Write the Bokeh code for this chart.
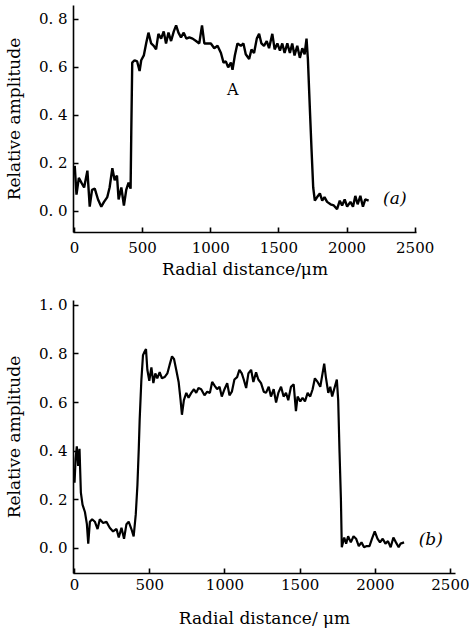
from bokeh.plotting import figure
from bokeh.models import Range1d, FixedTicker, CustomJSTickFormatter
from bokeh.core.properties import value
from bokeh.embed import file_html
from bokeh.resources import INLINE

# ---- data panel (a) ----
dist_a = [2, 15, 32, 51, 71, 95, 112, 129, 149, 173, 197, 217, 241, 258, 278, 295, 312, 324, 344, 363,
          380, 397, 412, 417, 424, 441, 460, 478, 490, 509, 526, 543, 563, 582, 599, 616, 636, 655, 672, 690,
          709, 729, 746, 763, 782, 802, 821, 843, 867, 892, 916, 936, 953, 977, 1001, 1026, 1050, 1075, 1094, 1111,
          1128, 1148, 1160, 1177, 1196, 1221, 1240, 1257, 1282, 1299, 1318, 1338, 1355, 1372, 1391, 1411, 1428, 1452, 1469, 1489,
          1508, 1525, 1542, 1562, 1581, 1598, 1615, 1635, 1654, 1672, 1689, 1703, 1713, 1728, 1740, 1752, 1764, 1781, 1801, 1818,
          1835, 1854, 1879, 1903, 1927, 1947, 1964, 1983, 2001, 2025, 2044, 2061, 2078, 2098, 2117, 2134, 2159]
amp_a = [0.19, 0.07, 0.14, 0.12, 0.10, 0.17, 0.02, 0.09, 0.095, 0.05, 0.02, 0.04, 0.06, 0.10, 0.18, 0.13, 0.15, 0.05, 0.10, 0.025,
         0.09, 0.12, 0.095, 0.33, 0.62, 0.63, 0.625, 0.585, 0.63, 0.65, 0.70, 0.745, 0.70, 0.69, 0.675, 0.74, 0.72, 0.75, 0.70, 0.745,
         0.71, 0.75, 0.775, 0.745, 0.725, 0.745, 0.72, 0.725, 0.72, 0.71, 0.70, 0.775, 0.70, 0.70, 0.70, 0.68, 0.69, 0.66, 0.62, 0.625,
         0.60, 0.62, 0.59, 0.65, 0.70, 0.69, 0.70, 0.655, 0.635, 0.675, 0.66, 0.72, 0.74, 0.70, 0.69, 0.71, 0.68, 0.74, 0.675, 0.70,
         0.67, 0.70, 0.66, 0.70, 0.66, 0.70, 0.65, 0.69, 0.64, 0.68, 0.655, 0.72, 0.635, 0.42, 0.255, 0.10, 0.045, 0.06, 0.075, 0.045,
         0.06, 0.04, 0.03, 0.025, 0.01, 0.045, 0.025, 0.05, 0.02, 0.04, 0.02, 0.065, 0.03, 0.065, 0.02, 0.05, 0.045]

# ---- data panel (b) ----
dist_b = [0, 7, 15, 24, 33, 42, 53, 69, 82, 91, 102, 117, 135, 153, 168, 190, 212, 234, 256, 279,
          294, 312, 329, 345, 360, 378, 393, 407, 418, 427, 433, 444, 455, 466, 475, 484, 497, 511, 524, 537,
          550, 566, 581, 599, 617, 632, 648, 661, 676, 692, 705, 714, 727, 743, 758, 776, 794, 809, 824, 842,
          864, 882, 900, 915, 931, 948, 964, 979, 997, 1015, 1030, 1046, 1063, 1081, 1096, 1112, 1125, 1141, 1156, 1174,
          1189, 1207, 1222, 1240, 1258, 1273, 1291, 1306, 1324, 1340, 1355, 1373, 1390, 1406, 1421, 1439, 1457, 1472, 1483, 1501,
          1516, 1532, 1550, 1567, 1583, 1598, 1616, 1634, 1649, 1660, 1671, 1687, 1700, 1713, 1726, 1744, 1753, 1762, 1771, 1777,
          1793, 1806, 1819, 1837, 1855, 1872, 1890, 1908, 1925, 1943, 1961, 1978, 1996, 2014, 2031, 2049, 2067, 2084, 2102, 2120,
          2137, 2155, 2168, 2191]
amp_b = [0.27, 0.37, 0.42, 0.34, 0.41, 0.23, 0.18, 0.15, 0.10, 0.02, 0.11, 0.12, 0.11, 0.08, 0.12, 0.105, 0.11, 0.085, 0.07, 0.08,
         0.045, 0.085, 0.04, 0.10, 0.11, 0.08, 0.05, 0.14, 0.26, 0.41, 0.53, 0.69, 0.795, 0.81, 0.82, 0.735, 0.69, 0.745, 0.68, 0.72,
         0.70, 0.725, 0.70, 0.705, 0.72, 0.755, 0.79, 0.78, 0.735, 0.685, 0.61, 0.55, 0.61, 0.64, 0.62, 0.64, 0.655, 0.64, 0.66, 0.655,
         0.63, 0.645, 0.64, 0.685, 0.67, 0.655, 0.665, 0.625, 0.655, 0.68, 0.63, 0.645, 0.695, 0.705, 0.735, 0.72, 0.695, 0.66, 0.72, 0.735,
         0.685, 0.725, 0.695, 0.68, 0.645, 0.64, 0.665, 0.625, 0.655, 0.60, 0.64, 0.665, 0.625, 0.64, 0.61, 0.665, 0.675, 0.565, 0.625, 0.605,
         0.62, 0.605, 0.64, 0.625, 0.655, 0.70, 0.685, 0.665, 0.72, 0.76, 0.705, 0.64, 0.665, 0.625, 0.655, 0.695, 0.61, 0.395, 0.205, 0.005,
         0.045, 0.02, 0.05, 0.025, 0.05, 0.04, 0.01, 0.025, 0.005, 0.01, 0.01, 0.04, 0.07, 0.04, 0.025, 0.04, 0.02, 0.03, 0.005, 0.045,
         0.025, 0.005, 0.02, 0.025]

x_ticks = [0, 500, 1000, 1500, 2000, 2500]
y_ticks_a = [0.0, 0.2, 0.4, 0.6, 0.8]
y_ticks_b = [0.0, 0.2, 0.4, 0.6, 0.8, 1.0]

FONT = "DejaVu Serif"
yfmt = CustomJSTickFormatter(code="return tick.toFixed(1).replace('.', '. ');")


def style(p, yticks, xlabel, xstand, xlstand):
    p.outline_line_color = None
    p.xgrid.visible = False
    p.ygrid.visible = False
    p.background_fill_color = "white"
    p.border_fill_color = "white"
    for ax in (p.xaxis[0], p.yaxis[0]):
        ax.axis_line_color = "black"
        ax.axis_line_width = 1.6
        ax.major_tick_line_color = "black"
        ax.major_tick_line_width = 1.6
        ax.major_tick_in = 5
        ax.major_tick_out = 0
        ax.minor_tick_line_color = None
        ax.major_label_text_font = FONT
        ax.major_label_text_font_size = "15px"
        ax.major_label_text_color = "black"
        ax.axis_label_text_font = FONT
        ax.axis_label_text_font_size = "17px"
        ax.axis_label_text_font_style = "normal"
        ax.axis_label_text_color = "black"
    p.xaxis[0].ticker = FixedTicker(ticks=x_ticks)
    p.yaxis[0].ticker = FixedTicker(ticks=yticks)
    p.yaxis[0].formatter = yfmt
    p.xaxis[0].axis_label = xlabel
    p.yaxis[0].axis_label = "Relative amplitude"
    p.xaxis[0].major_label_standoff = xstand
    p.xaxis[0].axis_label_standoff = xlstand
    p.yaxis[0].major_label_standoff = 6
    p.yaxis[0].axis_label_standoff = 12


W = 469
p1 = figure(width=W, height=290, output_backend="svg", toolbar_location=None,
            x_range=Range1d(-7, 2510), y_range=Range1d(-0.0875, 0.858),
            min_border_left=72, min_border_right=W - 72 - 344, min_border_top=5, min_border_bottom=58)
p1.line(dist_a, amp_a, line_color="black", line_width=2.4)
p1.text(x=[1162], y=[0.51], text=["A"], text_font=value(FONT), text_font_size="16px",
        text_align="center", text_baseline="middle", text_color="black")
p1.text(x=[2265], y=[0.058], text=["(a)"], text_font=value(FONT), text_font_size="17px",
        text_font_style="italic", text_align="left", text_baseline="middle", text_color="black")
style(p1, y_ticks_a, "Radial distance/μm", 9, 3)

p2 = figure(width=W, height=343, output_backend="svg", toolbar_location=None,
            x_range=Range1d(-7, 2533), y_range=Range1d(-0.103, 1.02),
            min_border_left=72, min_border_right=W - 72 - 383, min_border_top=10, min_border_bottom=60)
p2.line(dist_b, amp_b, line_color="black", line_width=2.2)
p2.text(x=[2288], y=[0.04], text=["(b)"], text_font=value(FONT), text_font_size="17px",
        text_font_style="italic", text_align="left", text_baseline="middle", text_color="black")
style(p2, y_ticks_b, "Radial distance/ μm", 5, 15)

open("out.html", "w").write(file_html([p1, p2], INLINE))
